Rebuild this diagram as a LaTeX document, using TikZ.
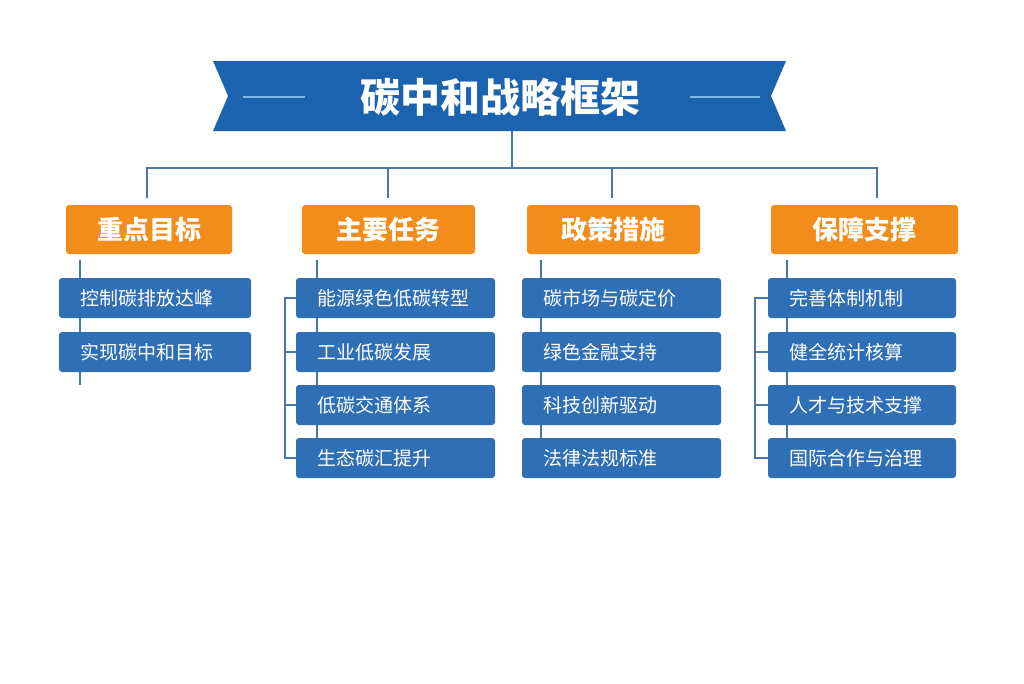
\documentclass[tikz,border=0pt]{standalone}
\usepackage{fontspec}
\setmainfont{Noto Sans CJK SC}
\newfontfamily\cjkb{Noto Sans CJK SC Bold}
\definecolor{bannerblue}{HTML}{1B63AE}
\definecolor{boxblue}{HTML}{2F6FB5}
\definecolor{headorange}{HTML}{F28C1A}
\definecolor{linkblue}{HTML}{4A76A8}
\definecolor{lightline}{HTML}{7DB8EC}
\begin{document}
\begin{tikzpicture}[x=1pt,y=-1pt,
  head/.style={fill=headorange,rounded corners=3pt,text=white,font=\fontsize{26}{28}\selectfont\bfseries},
  item/.style={fill=boxblue,rounded corners=3pt,text=white,font=\fontsize{19}{21}\selectfont},
  link/.style={draw=linkblue,line width=1.6pt}]
\useasboundingbox[fill=white] (0,0) rectangle (1024,683);
% banner
\fill[bannerblue] (213,61) -- (786,61) -- (771,96) -- (786,131) -- (213,131) -- (228,96) -- cycle;
\draw[lightline,line width=2pt] (243,97) -- (305,97) (690,97) -- (760,97);
\node[text=white,font=\fontsize{40}{44}\selectfont\bfseries] (title) at (500,97) {碳中和战略框架};
\coordinate (tb) at (512,131);
\coordinate (tj) at (512,168);
\draw[link] (tb) -- (tj);
\draw[link] (147,198) -- (147,168) -- (877,168) -- (877,198);
\draw[link] (388,168) -- (388,198);
\draw[link] (612,168) -- (612,198);
% headers
\path[head] (66,205) rectangle (232,254); \node[text=white,font=\fontsize{26}{28}\selectfont\bfseries] (h1) at (149,230) {重点目标};
\path[head] (302,205) rectangle (475,254); \node[text=white,font=\fontsize{26}{28}\selectfont\bfseries] (h2) at (388,230) {主要任务};
\path[head] (527,205) rectangle (700,254); \node[text=white,font=\fontsize{26}{28}\selectfont\bfseries] (h3) at (613,230) {政策措施};
\path[head] (771,205) rectangle (958,254); \node[text=white,font=\fontsize{26}{28}\selectfont\bfseries] (h4) at (864,230) {保障支撑};
% items
\newcommand{\itm}[5]{% name, x1, x2, y1, text
  \path[item] (#2,#4) rectangle (#3,#4+40);
  \node[anchor=west,text=white,font=\fontsize{19}{21}\selectfont] (#1) at (#2+18,#4+20) {#5};}
\itm{a1}{59}{251}{278}{控制碳排放达峰}
\itm{a2}{59}{251}{332}{实现碳中和目标}
\itm{b1}{296}{495}{278}{能源绿色低碳转型}
\itm{b2}{296}{495}{332}{工业低碳发展}
\itm{b3}{296}{495}{385}{低碳交通体系}
\itm{b4}{296}{495}{438}{生态碳汇提升}
\itm{c1}{522}{721}{278}{碳市场与碳定价}
\itm{c2}{522}{721}{332}{绿色金融支持}
\itm{c3}{522}{721}{385}{科技创新驱动}
\itm{c4}{522}{721}{438}{法律法规标准}
\itm{d1}{768}{956}{278}{完善体制机制}
\itm{d2}{768}{956}{332}{健全统计核算}
\itm{d3}{768}{956}{385}{人才与技术支撑}
\itm{d4}{768}{956}{438}{国际合作与治理}
% ticks
\foreach \x in {80,317,541,787}{\draw[link] (\x,260) -- (\x,278);}
\foreach \x/\n in {80/2,317/4,541/4,787/4}{
  \foreach \a/\b in {318/332,372/385,425/438}{
    \ifnum\b<386 \draw[link] (\x,\a) -- (\x,\b); \else \ifnum\n=4 \draw[link] (\x,\a) -- (\x,\b);\fi\fi}}
% brackets
\draw[link] (296,298) -- (285,298) -- (285,458) -- (296,458) (285,352) -- (296,352) (285,405) -- (296,405);
\draw[link] (768,298) -- (755,298) -- (755,458) -- (768,458) (755,352) -- (768,352) (755,405) -- (768,405);
\end{tikzpicture}
\end{document}
